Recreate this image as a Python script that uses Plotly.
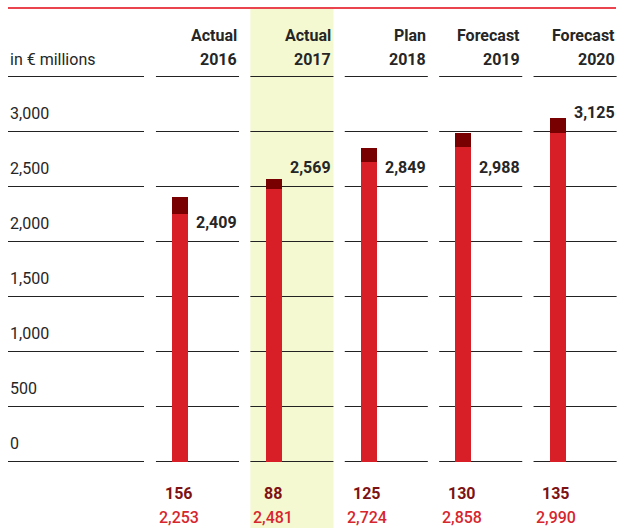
import math
import plotly.graph_objects as go

# ---- data ----
years = ["2016", "2017", "2018", "2019", "2020"]
kinds = ["Actual", "Actual", "Plan", "Forecast", "Forecast"]
base_values = [2253, 2481, 2724, 2858, 2990]
top_values = [156, 88, 125, 130, 135]
totals = [2409, 2569, 2849, 2988, 3125]
ticks = [0, 500, 1000, 1500, 2000, 2500, 3000]
tick_labels = ["0", "500", "1,000", "1,500", "2,000", "2,500", "3,000"]
unit_label = "in € millions"
highlight = "2017"

# ---- styles ----
W, H = 619, 528
FONT = "Roboto"
TXT = "#262626"
RED = "#d81e27"
DARK = "#780000"
LBL_DARK = "#7d1214"
LBL_RED = "#d6262e"
YELLOW = "#f4f9d2"
LINE = "#222222"

px_per_unit_x = 94.4
first_center_px = 197.5
x0 = -first_center_px / px_per_unit_x
x1 = x0 + W / px_per_unit_x
zero_px = 461.5
px_per_val = 0.11
y_bottom = -(H - zero_px) / px_per_val
y_top = zero_px / px_per_val
half = 0.44  # half column width in category units

def fmt(v):
    return f"{v:,}"

fig = go.Figure()
fig.add_trace(go.Bar(x=years, y=base_values, marker_color=RED, width=0.17, offset=-0.27,
                     marker_line_width=0, hoverinfo="skip"))
fig.add_trace(go.Bar(x=years, y=top_values, marker_color=DARK, width=0.17, offset=-0.27,
                     marker_line_width=0, hoverinfo="skip"))

shapes = []
# highlight band
hi = years.index(highlight)
shapes.append(dict(type="rect", xref="x", yref="paper", x0=hi - half, x1=hi + half,
                   y0=0, y1=1 - 9 / H, fillcolor=YELLOW, line_width=0, layer="below"))
# top red line
shapes.append(dict(type="line", xref="paper", yref="paper", x0=8 / W, x1=616 / W,
                   y0=1 - 8 / H, y1=1 - 8 / H, line=dict(color="#e30613", width=1.3)))
# header lines
hy = 1 - 76.5 / H
shapes.append(dict(type="line", xref="paper", yref="paper", x0=8 / W, x1=144 / W,
                   y0=hy, y1=hy, line=dict(color=LINE, width=1)))
for i in range(len(years)):
    shapes.append(dict(type="line", xref="x", yref="paper", x0=i - half, x1=i + half,
                       y0=hy, y1=hy, line=dict(color=LINE, width=1)))
# grid segments
for t in ticks:
    shapes.append(dict(type="line", xref="paper", yref="y", x0=8 / W, x1=144 / W,
                       y0=t, y1=t, line=dict(color=LINE, width=1), layer="below"))
    for i in range(len(years)):
        shapes.append(dict(type="line", xref="x", yref="y", x0=i - half, x1=i + half,
                           y0=t, y1=t, line=dict(color=LINE, width=1), layer="below"))

ann = []
# tick labels
for t, lab in zip(ticks, tick_labels):
    ann.append(dict(text=lab, xref="paper", yref="y", x=8 / W, y=t, xanchor="left",
                    yanchor="bottom", yshift=7, showarrow=False,
                    font=dict(family=FONT, size=16, color=TXT)))
# unit label
ann.append(dict(text=unit_label, xref="paper", yref="paper", x=8 / W, y=hy, xanchor="left",
                yanchor="bottom", yshift=6, showarrow=False,
                font=dict(family=FONT, size=16, color=TXT)))
# headers
for i, (k, yr) in enumerate(zip(kinds, years)):
    ann.append(dict(text=f"<b>{yr}</b>", xref="x", yref="paper", x=i + half, y=hy,
                    xanchor="right", yanchor="bottom", yshift=6, showarrow=False,
                    font=dict(family=FONT, size=16, color=TXT)))
    ann.append(dict(text=f"<b>{k}</b>", xref="x", yref="paper", x=i + half, y=hy,
                    xanchor="right", yanchor="bottom", yshift=30, showarrow=False,
                    font=dict(family=FONT, size=16, color=TXT)))
# totals
for i, tot in enumerate(totals):
    row = math.floor(tot / 500) * 500
    ann.append(dict(text=f"<b>{fmt(tot)}</b>", xref="x", yref="y", x=i + half, y=row,
                    xanchor="right", yanchor="bottom", yshift=8, showarrow=False,
                    font=dict(family=FONT, size=16, color=TXT)))
# bottom values
for i, (tv, bv) in enumerate(zip(top_values, base_values)):
    ann.append(dict(text=f"<b>{fmt(tv)}</b>", xref="x", yref="y", x=i, y=0, xshift=-19,
                    yshift=-32, xanchor="center", yanchor="middle", showarrow=False,
                    font=dict(family=FONT, size=16, color=LBL_DARK)))
    ann.append(dict(text=f"{fmt(bv)}", xref="x", yref="y", x=i, y=0, xshift=-19,
                    yshift=-56, xanchor="center", yanchor="middle", showarrow=False,
                    font=dict(family=FONT, size=16, color=LBL_RED, weight=500)))

fig.update_layout(
    width=W, height=H, margin=dict(l=0, r=0, t=0, b=0),
    paper_bgcolor="white", plot_bgcolor="rgba(0,0,0,0)",
    barmode="stack", showlegend=False, bargap=0,
    xaxis=dict(type="category", range=[x0, x1], visible=False, fixedrange=True),
    yaxis=dict(range=[y_bottom, y_top], visible=False, fixedrange=True),
    shapes=shapes, annotations=ann,
)
fig.write_html("out.html")
